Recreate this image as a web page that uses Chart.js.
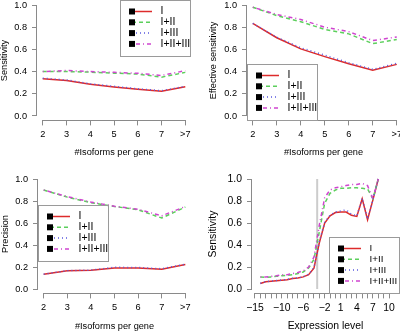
<!DOCTYPE html>
<html>
<head>
<meta charset="utf-8">
<script src="https://cdn.jsdelivr.net/npm/chart.js@4.4.0/dist/chart.umd.min.js"></script>
<style>
  html, body { margin: 0; padding: 0; background: #fff; }
  #wrap { position: relative; width: 400px; height: 331px; overflow: hidden; }
  #wrap canvas { position: absolute; }
</style>
</head>
<body>
<div id="wrap">
  <canvas id="sens" width="200" height="165" style="left:0;top:0"></canvas>
  <canvas id="effSens" width="200" height="165" style="left:200px;top:0"></canvas>
  <canvas id="prec" width="200" height="166" style="left:0;top:165px"></canvas>
  <canvas id="expr" width="200" height="166" style="left:200px;top:165px"></canvas>
</div>
<script>
  // isoform count classes (">7" sits at position 8)
  const isoLabels = ['2', '3', '4', '5', '6', '7', '>7'];
  const isoPos = [2, 3, 4, 5, 6, 7, 8];

  const seriesNames = ['I', 'I+II', 'I+III', 'I+II+III'];

  const sensI      = [0.335, 0.320, 0.285, 0.262, 0.240, 0.222, 0.263];
  const sensI_II   = [0.400, 0.400, 0.395, 0.386, 0.378, 0.350, 0.393];
  const sensI_III  = [0.340, 0.325, 0.290, 0.267, 0.245, 0.228, 0.268];
  const sensAll    = [0.400, 0.410, 0.400, 0.393, 0.385, 0.365, 0.408];

  const effI       = [0.835, 0.705, 0.605, 0.535, 0.470, 0.412, 0.465];
  const effI_II    = [0.980, 0.905, 0.850, 0.780, 0.740, 0.652, 0.690];
  const effI_III   = [0.835, 0.710, 0.615, 0.548, 0.480, 0.420, 0.475];
  const effAll     = [0.980, 0.915, 0.870, 0.800, 0.760, 0.680, 0.712];

  const precI      = [0.135, 0.165, 0.170, 0.192, 0.190, 0.180, 0.222];
  const precI_II   = [0.900, 0.835, 0.785, 0.750, 0.720, 0.645, 0.745];
  const precI_III  = [0.135, 0.167, 0.172, 0.197, 0.196, 0.184, 0.225];
  const precAll    = [0.900, 0.840, 0.790, 0.752, 0.725, 0.665, 0.750];

  // expression level bins
  const exprLevels = [-14, -13, -12, -11, -10, -9, -8, -7, -6, -5, -4, -3, -2, -1, 0, 1, 2, 3, 4, 5, 6, 7, 8];
  const exprI     = [0.050, 0.065, 0.070, 0.075, 0.080, 0.085, 0.095, 0.100, 0.110, 0.130, 0.190, 0.420, 0.600, 0.665, 0.695, 0.700, 0.700, 0.670, 0.660, 0.820, 0.630, 0.810, 1.000];
  const exprI_II  = [0.110, 0.105, 0.110, 0.115, 0.120, 0.125, 0.130, 0.140, 0.155, 0.190, 0.270, 0.520, 0.780, 0.870, 0.900, 0.915, 0.915, 0.920, 0.920, 0.915, 0.910, 0.820, 1.000];
  const exprI_III = [0.052, 0.067, 0.072, 0.077, 0.082, 0.087, 0.097, 0.102, 0.112, 0.133, 0.195, 0.430, 0.605, 0.670, 0.700, 0.710, 0.720, 0.680, 0.665, 0.825, 0.635, 0.812, 1.000];
  const exprAll   = [0.110, 0.110, 0.115, 0.120, 0.130, 0.130, 0.140, 0.150, 0.165, 0.200, 0.290, 0.580, 0.830, 0.900, 0.920, 0.930, 0.940, 0.950, 0.950, 0.960, 0.940, 0.820, 1.000];
  const exprCutoff = -3.4;
  const exprTicks = [-15, -14, -13, -12, -11, -10, -9, -8, -7, -6, -5, -4, -3, -2, -1, 0, 1, 2, 3, 4, 5, 6, 7, 8, 9, 10];
  const exprTickLabels = [-15, -10, -6, -2, 1, 4, 7, 10];

  const yTicks = [0, 0.2, 0.4, 0.6, 0.8, 1.0];

  const seriesColors = ['#dd2b2b', '#5ccf5c', '#5a5ae0', '#cf45cf'];
  const seriesDash = [[], [4, 3], [1, 3], [1, 3, 4, 3]];
  const axisColor = '#8a8a8a';
  const textColor = '#000';
  const family = "'Liberation Sans', Arial, sans-serif";

  // R-style detached axis lines plus a boxed legend
  const rStyle = {
    id: 'rStyle',
    afterDraw(chart, args, opts) {
      const { ctx, chartArea: a, scales: { x, y } } = chart;
      ctx.save();
      ctx.strokeStyle = axisColor;
      ctx.lineWidth = 1;
      ctx.beginPath();
      const by = Math.round(a.bottom) + 0.5;
      ctx.moveTo(x.getPixelForValue(x.ticks[0].value), by);
      ctx.lineTo(x.getPixelForValue(x.ticks[x.ticks.length - 1].value), by);
      const lx = Math.round(a.left) - 0.5;
      ctx.moveTo(lx, y.getPixelForValue(y.ticks[0].value));
      ctx.lineTo(lx, y.getPixelForValue(y.ticks[y.ticks.length - 1].value));
      ctx.stroke();

      const L = opts.x, T = opts.y, w = 70, h = 56;
      ctx.strokeStyle = '#9a9a9a';
      ctx.strokeRect(L + 0.5, T + 0.5, w, h);
      ctx.font = opts.fontSize + 'px ' + family;
      ctx.textBaseline = 'middle';
      ctx.fillStyle = '#000';
      chart.data.datasets.slice(0, 4).forEach((d, i) => {
        const cy = T + 11.5 + i * 10.8;
        ctx.strokeStyle = d.borderColor;
        ctx.lineWidth = d.borderWidth;
        ctx.setLineDash(d.borderDash);
        ctx.beginPath();
        ctx.moveTo(L + 12, cy);
        ctx.lineTo(L + 32, cy);
        ctx.stroke();
        ctx.setLineDash([]);
        ctx.fillRect(L + 9, cy - 3, 6, 6);
        ctx.fillText(d.label, L + 40.5, cy);
      });
      ctx.restore();
    }
  };

  function makeSeries(xs, lists) {
    return lists.map((vals, i) => ({
      label: seriesNames[i],
      data: vals.map((v, j) => ({ x: xs[j], y: v })),
      borderColor: seriesColors[i],
      borderDash: seriesDash[i],
      borderWidth: 1.5,
      pointRadius: 0,
      tension: 0,
      fill: false,
      order: 4 - i
    }));
  }

  function panel(id, p) {
    const cv = document.getElementById(id);
    const W = cv.width, H = cv.height;
    const font = { family: family, size: p.fontSize, lineHeight: 1 };
    return new Chart(cv, {
      type: 'line',
      data: { datasets: p.datasets },
      options: {
        responsive: false,
        animation: false,
        events: [],
        layout: { padding: { left: 0, right: W - p.area[1], top: p.area[2], bottom: 0 } },
        plugins: {
          legend: { display: false },
          tooltip: { enabled: false },
          rStyle: { x: p.legend[0], y: p.legend[1], fontSize: p.legendFont }
        },
        scales: {
          x: {
            type: 'linear',
            min: p.xMin,
            max: p.xMax,
            afterBuildTicks: s => { s.ticks = p.xTicks.map(v => ({ value: v })); },
            afterFit: s => { s.height = H - p.area[3]; s.paddingLeft = 0; s.paddingRight = 0; },
            ticks: {
              autoSkip: false, maxRotation: 0, padding: 4, color: textColor,
              font: { family: family, size: p.fontSize },
              callback: p.xLabel
            },
            grid: { drawOnChartArea: false, tickLength: 5, color: axisColor, lineWidth: 1 },
            border: { display: false },
            title: { display: true, text: p.xTitle, color: textColor, font: font, padding: { top: 0, bottom: p.xTitlePad } }
          },
          y: {
            type: 'linear',
            min: -0.04,
            max: 1.04,
            afterBuildTicks: s => { s.ticks = yTicks.map(v => ({ value: v })); },
            afterFit: s => { s.width = p.area[0]; s.paddingTop = 0; s.paddingBottom = 0; },
            ticks: {
              padding: 5, color: textColor,
              font: { family: family, size: p.fontSize },
              callback: v => v.toFixed(1)
            },
            grid: { drawOnChartArea: false, tickLength: 5, color: axisColor, lineWidth: 1 },
            border: { display: false },
            title: { display: true, text: p.yTitle, color: textColor, font: font, padding: { top: p.yTitlePad, bottom: 0 } }
          }
        }
      },
      plugins: [rStyle]
    });
  }

  const isoLabel = v => isoLabels[isoPos.indexOf(v)];

  panel('sens', {
    datasets: makeSeries(isoPos, [sensI, sensI_II, sensI_III, sensAll]),
    area: [37, 191, 0.6, 120.4], xMin: 1.76, xMax: 8.24,
    xTicks: isoPos, xLabel: isoLabel, fontSize: 9.2, legendFont: 10.5,
    xTitle: '#Isoforms per gene', yTitle: 'Sensitivity', xTitlePad: 7.5, yTitlePad: 0,
    legend: [120, 0]
  });

  panel('effSens', {
    datasets: makeSeries(isoPos, [effI, effI_II, effI_III, effAll]),
    area: [47, 200, 0.6, 120.4], xMin: 1.76, xMax: 1.76 + 153 / 24,
    xTicks: isoPos, xLabel: isoLabel, fontSize: 9.2, legendFont: 10.5,
    xTitle: '#Isoforms per gene', yTitle: 'Effective sensitivity', xTitlePad: 7.5, yTitlePad: 8.5,
    legend: [47, 64]
  });

  panel('prec', {
    datasets: makeSeries(isoPos, [precI, precI_II, precI_III, precAll]),
    area: [38, 191, 9.6, 128.4], xMin: 1.76, xMax: 8.24,
    xTicks: isoPos, xLabel: isoLabel, fontSize: 9.2, legendFont: 10.5,
    xTitle: '#Isoforms per gene', yTitle: 'Precision', xTitlePad: 0, yTitlePad: 0.5,
    legend: [38, 40]
  });

  const exprSets = makeSeries(exprLevels, [exprI, exprI_II, exprI_III, exprAll]);
  exprSets.push({
    label: 'cutoff',
    data: [{ x: exprCutoff, y: 0 }, { x: exprCutoff, y: 1 }],
    borderColor: '#cccccc', borderWidth: 2, pointRadius: 0, order: 10
  });

  panel('expr', {
    datasets: exprSets,
    area: [52, 199, 9.6, 128.4], xMin: -15 - 3 / 5.36, xMax: -15 - 3 / 5.36 + 147 / 5.36,
    xTicks: exprTicks,
    xLabel: v => exprTickLabels.includes(v) ? (v < 0 ? '\u2212' + Math.abs(v) : String(v)) : '',
    fontSize: 10.4, legendFont: 9.8,
    xTitle: 'Expression level', yTitle: 'Sensitivity', xTitlePad: 0, yTitlePad: 7.8,
    legend: [129, 72]
  });
</script>
</body>
</html>
